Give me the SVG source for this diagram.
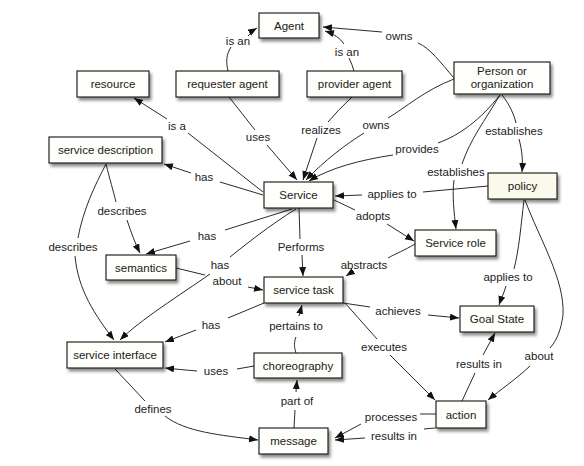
<svg xmlns="http://www.w3.org/2000/svg" width="584" height="466" viewBox="0 0 584 466">
<style>
.box{fill:#fefefb;stroke:#111;stroke-width:1.1;filter:url(#sh)}
.cream{fill:#fbf9ec}
.nt{font-family:"Liberation Sans",Arial,sans-serif;font-size:11.5px;fill:#1a1a1a;text-anchor:middle;dominant-baseline:central}
.lb{font-family:"Liberation Sans",Arial,sans-serif;font-size:11.5px;fill:#222;text-anchor:middle;dominant-baseline:central}
.e{fill:none;stroke:#2a2a2a;stroke-width:1}
.a{marker-end:url(#ah)}
</style>
<defs>
<filter id="sh" x="-20%" y="-20%" width="150%" height="160%">
<feDropShadow dx="2" dy="3" stdDeviation="1.8" flood-color="#000" flood-opacity="0.45"/>
</filter>
<marker id="ah" markerWidth="10" markerHeight="8" refX="9" refY="3.5" orient="auto" markerUnits="userSpaceOnUse">
<path d="M0,0 L9,3.5 L0,7 Z" fill="#111"/>
</marker>
</defs>
<rect width="584" height="466" fill="#ffffff"/>
<g id="connectors">
<path class="e" d="M228,71 C226,62 226,55 231,47"/><path class="e a" d="M248,36 Q252,31 257,28"/>
<path class="e" d="M354,71 Q352,64 349,58"/><path class="e a" d="M344,44 Q338,35 325,31"/>
<path class="e" d="M454,78 C440,62 430,48 418,43"/><path class="e a" d="M382,32 L323,27"/>
<path class="e" d="M229,97 L255,130"/><path class="e a" d="M267,145 L297,180"/>
<path class="e" d="M352,97 Q338,110 328,122"/><path class="e a" d="M317,138 L303,180"/>
<path class="e" d="M454,79 C425,90 405,108 388,118"/><path class="e a" d="M364,133 C345,145 325,160 306,180"/>
<path class="e" d="M500,95 C480,120 460,135 438,143"/><path class="e a" d="M393,155 C360,160 330,168 309,181"/>
<path class="e" d="M502,95 C510,105 514,115 516,123"/><path class="e a" d="M519,139 C522,150 523,160 522,172"/>
<path class="e" d="M500,95 C485,120 470,140 462,164"/><path class="e a" d="M454,180 C452,195 454,212 456,229"/>
<path class="e" d="M263,192 L188,133"/><path class="e a" d="M167,119 L134,98"/>
<path class="e" d="M263,195 L220,182"/><path class="e a" d="M191,173 L164,164"/>
<path class="e" d="M488,186 L423,192"/><path class="e a" d="M362,195 L335,196"/>
<path class="e" d="M334,200 L355,210"/><path class="e a" d="M387,224 L414,241"/>
<path class="e" d="M292,209 L225,230"/><path class="e a" d="M190,241 L146,254"/>
<path class="e" d="M296,209 C270,225 245,245 230,257"/><path class="e a" d="M210,274 C180,295 140,320 120,340"/>
<path class="e" d="M299,208 L300,239"/><path class="e a" d="M302,255 L303,276"/>
<path class="e" d="M415,244 C405,250 395,254 388,258"/><path class="e a" d="M352,272 L346,276"/>
<path class="e" d="M106,164 C110,180 113,190 116,202"/><path class="e a" d="M127,220 C131,232 135,243 140,253"/>
<path class="e" d="M106,164 C95,185 83,210 78,238"/><path class="e a" d="M75,256 C78,290 95,315 114,340"/>
<path class="e" d="M176,268 L205,275"/><path class="e a" d="M248,287 L263,290"/>
<path class="e" d="M264,303 L228,318"/><path class="e a" d="M196,330 L165,342"/>
<path class="e" d="M296,353 C294,347 294,342 296,337"/><path class="e a" d="M299,316 L302,305"/>
<path class="e" d="M254,366 L237,369"/><path class="e a" d="M197,371 C185,370 175,369 165,368"/>
<path class="e" d="M294,428 L295,410"/><path class="e a" d="M296,392 L297,380"/>
<path class="e" d="M115,369 C125,380 135,390 145,401"/><path class="e a" d="M165,416 C185,432 220,435 258,440"/>
<path class="e" d="M343,303 L370,307"/><path class="e a" d="M428,315 L459,318"/>
<path class="e" d="M345,303 L377,339"/><path class="e a" d="M390,355 L435,400"/>
<path class="e" d="M462,401 L475,373"/><path class="e a" d="M483,355 L495,333"/>
<path class="e" d="M524,200 C521,225 519,250 514,269"/><path class="e a" d="M506,286 C504,293 501,299 499,305"/>
<path class="e" d="M525,200 C540,240 565,280 563,315 C561,330 557,340 550,348"/><path class="e a" d="M530,366 C515,380 500,390 488,400"/>
<path class="e" d="M436,414 L420,414"/><path class="e a" d="M361,424 L335,438"/>
<path class="e" d="M435,428 L424,429"/><path class="e a" d="M365,438 L335,440"/>
<text class="lb" x="238" y="41">is an</text>
<text class="lb" x="347" y="52">is an</text>
<text class="lb" x="399" y="36">owns</text>
<text class="lb" x="258" y="137">uses</text>
<text class="lb" x="321" y="130">realizes</text>
<text class="lb" x="376" y="125">owns</text>
<text class="lb" x="417" y="149">provides</text>
<text class="lb" x="514" y="131">establishes</text>
<text class="lb" x="456" y="172">establishes</text>
<text class="lb" x="177" y="126">is a</text>
<text class="lb" x="204" y="177">has</text>
<text class="lb" x="392" y="194">applies to</text>
<text class="lb" x="373" y="216">adopts</text>
<text class="lb" x="207" y="236">has</text>
<text class="lb" x="220" y="265">has</text>
<text class="lb" x="301" y="247">Performs</text>
<text class="lb" x="364" y="265">abstracts</text>
<text class="lb" x="122" y="211">describes</text>
<text class="lb" x="73" y="247">describes</text>
<text class="lb" x="227" y="281">about</text>
<text class="lb" x="211" y="325">has</text>
<text class="lb" x="296" y="326">pertains to</text>
<text class="lb" x="216" y="371">uses</text>
<text class="lb" x="297" y="401">part of</text>
<text class="lb" x="153" y="409">defines</text>
<text class="lb" x="398" y="311">achieves</text>
<text class="lb" x="384" y="347">executes</text>
<text class="lb" x="479" y="364">results in</text>
<text class="lb" x="508" y="277">applies to</text>
<text class="lb" x="539" y="356">about</text>
<text class="lb" x="391" y="417">processes</text>
<text class="lb" x="394" y="436">results in</text>
</g>
<g id="agent"><rect class="box" x="259" y="13" width="60" height="25"/><text class="nt" x="289" y="25.5">Agent</text></g>
<g id="resource"><rect class="box" x="77" y="71" width="72" height="26"/><text class="nt" x="113" y="84">resource</text></g>
<g id="requester-agent"><rect class="box" x="176" y="71" width="103" height="26"/><text class="nt" x="227.5" y="84">requester agent</text></g>
<g id="provider-agent"><rect class="box" x="307" y="71" width="95" height="26"/><text class="nt" x="354.5" y="84">provider agent</text></g>
<g id="person"><rect class="box" x="454" y="62" width="96" height="32"/><text class="nt" x="502" y="71">Person or</text><text class="nt" x="502" y="84">organization</text></g>
<g id="service-description"><rect class="box" x="49" y="137" width="113" height="26"/><text class="nt" x="105.5" y="150">service description</text></g>
<g id="service"><rect class="box" x="264" y="182" width="69" height="26"/><text class="nt" x="298.5" y="195">Service</text></g>
<g id="policy"><rect class="box cream" x="488" y="173" width="69" height="26"/><text class="nt" x="522.5" y="186">policy</text></g>
<g id="service-role"><rect class="box" x="415" y="230" width="81" height="26"/><text class="nt" x="455.5" y="243">Service role</text></g>
<g id="semantics"><rect class="box" x="106" y="255" width="70" height="25"/><text class="nt" x="141" y="267.5">semantics</text></g>
<g id="service-task"><rect class="box" x="264" y="277" width="79" height="26"/><text class="nt" x="303.5" y="290">service task</text></g>
<g id="goal-state"><rect class="box" x="460" y="306" width="74" height="26"/><text class="nt" x="497" y="319">Goal State</text></g>
<g id="service-interface"><rect class="box" x="67" y="342" width="96" height="26"/><text class="nt" x="115" y="355">service interface</text></g>
<g id="choreography"><rect class="box" x="254" y="353" width="88" height="25"/><text class="nt" x="298" y="365.5">choreography</text></g>
<g id="message"><rect class="box" x="259" y="428" width="69" height="26"/><text class="nt" x="293.5" y="441">message</text></g>
<g id="action"><rect class="box" x="436" y="401" width="50" height="27"/><text class="nt" x="461" y="414.5">action</text></g>
</svg>
